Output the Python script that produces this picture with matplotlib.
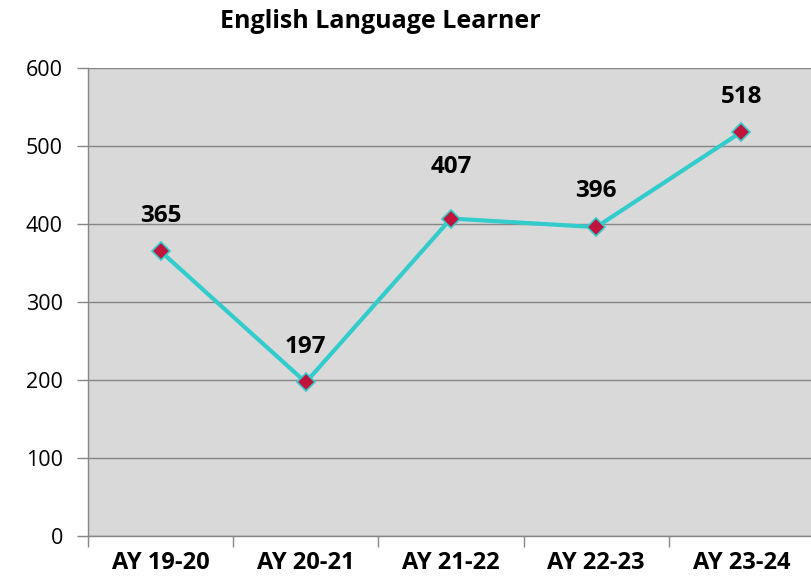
import matplotlib
matplotlib.use("Agg")
import matplotlib.pyplot as plt
import numpy as np

categories = ["AY 19-20", "AY 20-21", "AY 21-22", "AY 22-23", "AY 23-24"]
values = [365, 197, 407, 396, 518]
y_ticks = [0, 100, 200, 300, 400, 500, 600]
title = "English Language Learner"

plt.rcParams['font.family'] = ['Open Sans', 'DejaVu Sans']

W, H = 812, 580
fig = plt.figure(figsize=(W / 100, H / 100), dpi=100)
left, right, top, bottom = 88, 814, 68, 536
ax = fig.add_axes([left / W, 1 - bottom / H, (right - left) / W, (bottom - top) / H])
ax.set_facecolor("#d9d9d9")

x = np.arange(len(categories))
ax.plot(x, values, color="#33cccc", linewidth=3, zorder=3,
        marker="D", markersize=9, markerfacecolor="#c0143c",
        markeredgecolor="#33cccc", markeredgewidth=1.2)

offsets = [35, 35, 52, 36, 35]
for xi, v, off in zip(x, values, offsets):
    ax.annotate(str(v), (xi, v), xytext=(0, off * 0.72), textcoords="offset points",
                ha="center", va="center", fontsize=17.5, fontweight="bold", color="black")

ax.set_xlim(-0.5, len(categories) - 0.5)
ax.set_ylim(0, 600)
ax.set_yticks(y_ticks)
ax.set_yticklabels([str(t) for t in y_ticks], fontsize=15.5)
ax.yaxis.grid(True, color="#868686", linewidth=1)
ax.set_axisbelow(True)

ax.set_xticks(x)
ax.set_xticklabels(categories, fontsize=17, fontweight="bold")
ax.tick_params(axis="x", length=0, pad=11)
ax.set_xticks(np.arange(-0.5, len(categories) + 0.5, 1), minor=True)
ax.tick_params(axis="x", which="minor", length=8, color="#868686", width=1)
ax.tick_params(axis="y", length=8, color="#868686", width=1, pad=10)

for s in ["top", "right"]:
    ax.spines[s].set_visible(False)
for s in ["left", "bottom"]:
    ax.spines[s].set_color("#868686")
    ax.spines[s].set_linewidth(1)

fig.text(380 / W, 1 - 22 / H, title, ha="center", va="center",
         fontsize=18, fontweight="bold")

fig.savefig("out.png", dpi=100)
